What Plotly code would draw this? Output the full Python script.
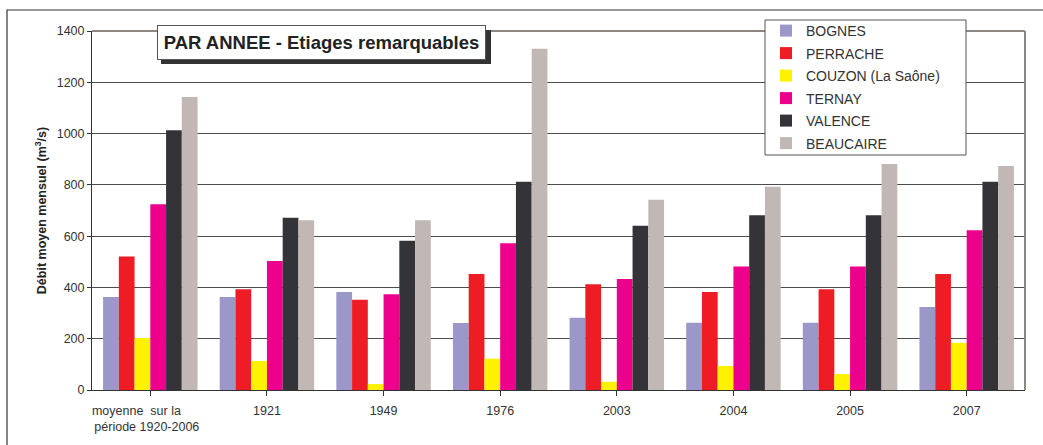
import plotly.graph_objects as go

categories = ["moyenne\u00a0\u00a0sur la\u00a0\u00a0\u00a0\u00a0\u00a0\u00a0\u00a0\u00a0<br>période 1920-2006\u00a0\u00a0", "1921", "1949", "1976", "2003", "2004", "2005", "2007"]
series_names = ["BOGNES", "PERRACHE", "COUZON (La Saône)", "TERNAY", "VALENCE", "BEAUCAIRE"]
bognes = [363, 363, 382, 261, 282, 262, 262, 324]
perrache = [521, 393, 352, 452, 412, 382, 393, 452]
couzon = [203, 113, 23, 122, 32, 94, 62, 184]
ternay = [724, 503, 373, 572, 433, 482, 482, 623]
valence = [1013, 672, 582, 812, 641, 681, 681, 812]
beaucaire = [1143, 662, 662, 1331, 742, 793, 881, 874]
colors = ["#9c97c9", "#ee1d25", "#fff200", "#ec008c", "#343338", "#c1b8b5"]
y_ticks = [0, 200, 400, 600, 800, 1000, 1200, 1400]

series = [bognes, perrache, couzon, ternay, valence, beaucaire]

W, H = 1043, 445
ML, MR, MT, MB = 92, 18, 31, 55
PW, PH = W - ML - MR, H - MT - MB


def px(x):
    return (x - ML) / PW


def py(y):
    return (H - MB - y) / PH


FONT = "Liberation Sans, Arial, Helvetica, sans-serif"
fig = go.Figure()
xidx = list(range(len(categories)))
for name, vals, col in zip(series_names, series, colors):
    fig.add_trace(go.Bar(x=xidx, y=vals, name=name, marker=dict(color=col, line=dict(width=0)),
                         legendgroup=name))

fig.update_layout(
    width=W, height=H,
    margin=dict(l=ML, r=MR, t=MT, b=MB, pad=0),
    paper_bgcolor="white", plot_bgcolor="white",
    barmode="group", bargap=0.19, bargroupgap=0,
    font=dict(family=FONT, size=12.5, color="#333333"),
    showlegend=True,
    legend=dict(x=px(766), y=py(15), xanchor="left", yanchor="top",
                bgcolor="rgba(0,0,0,0)", borderwidth=0,
                font=dict(family=FONT, size=14, color="#333333"),
                tracegroupgap=1.3, traceorder="grouped"),
    xaxis=dict(tickmode="array", tickvals=xidx, ticktext=categories, range=[-0.5, 7.5],
               showline=True, linecolor="#333333", linewidth=1,
               ticks="outside", tickson="boundaries", ticklen=5, tickcolor="#333333",
               ticklabelstandoff=4,
               showgrid=False, zeroline=False, tickfont=dict(size=12.5, color="#333333")),
    yaxis=dict(range=[0, 1400], tickmode="array", tickvals=y_ticks,
               showline=True, linecolor="#333333", linewidth=1,
               ticks="outside", ticklen=4, tickcolor="#333333",
               showgrid=True, gridcolor="#4d4d4d", gridwidth=1, zeroline=False,
               tickfont=dict(size=12.5, color="#333333"),
               title=dict(text="<b>Débit moyen mensuel (m<sup>3</sup>/s)</b>",
                          font=dict(size=12.5, color="#222222"), standoff=7)),
)

shapes = [
    # outer frame
    dict(type="rect", xref="paper", yref="paper", x0=px(7), x1=px(1060), y0=py(460), y1=py(10),
         line=dict(color="#333333", width=1.2), fillcolor="rgba(0,0,0,0)", layer="below"),
    # plot frame top and right (grey)
    dict(type="line", xref="paper", yref="paper", x0=0, x1=1, y0=1, y1=1,
         line=dict(color="#8d8682", width=2), layer="above"),
    dict(type="line", xref="paper", yref="paper", x0=1, x1=1, y0=0, y1=1,
         line=dict(color="#8d8682", width=2), layer="above"),
    # title shadow
    dict(type="rect", xref="paper", yref="paper", x0=px(161), x1=px(491), y0=py(64), y1=py(30),
         line=dict(width=0), fillcolor="#333333", layer="above"),
    # legend box
    dict(type="rect", xref="paper", yref="paper", x0=px(765), x1=px(966), y0=py(155), y1=py(20),
         line=dict(color="#555555", width=1), fillcolor="white", layer="above"),
]
fig.update_layout(shapes=shapes)

fig.add_annotation(text="<b>PAR ANNEE - Etiages remarquables</b>", xref="paper", yref="paper",
                   x=px(157), y=py(25), xanchor="left", yanchor="top", showarrow=False,
                   font=dict(family=FONT, size=18.5, color="#222222"),
                   bgcolor="white", bordercolor="#555555", borderwidth=1, borderpad=1,
                   width=325, height=31)

fig.write_html("out.html", config={"displayModeBar": False},
               post_script="document.body.style.margin='0';")
